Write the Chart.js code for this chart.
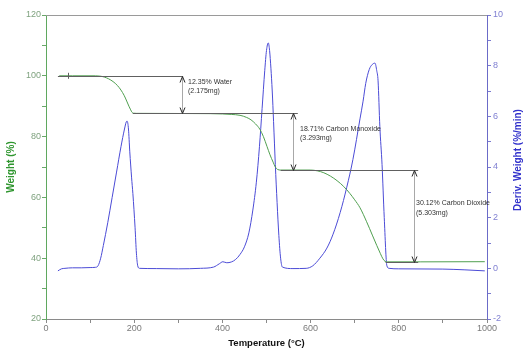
<!DOCTYPE html>
<html><head><meta charset="utf-8">
<script src="https://cdn.jsdelivr.net/npm/chart.js@4.4.1/dist/chart.umd.min.js"></script>
<style>html,body{margin:0;padding:0;background:#fff}canvas{display:block}</style>
</head><body>
<canvas id="c" width="528" height="356"></canvas>
<script>
// ---- data ----
const weightTemp = [30, 60, 112, 122, 132, 142, 152, 162, 170, 177, 183, 188, 192, 195, 198, 205, 300, 372, 400, 420, 440, 455, 465, 475, 485, 493, 501, 508, 515, 520, 525, 532, 599, 615, 630, 645, 660, 675, 689, 700, 712, 727, 740, 750, 758, 764, 769, 775, 850, 995];
const weightPct  = [100, 100, 100, 99.9, 99.6, 99.0, 98.1, 96.8, 95.3, 93.6, 91.7, 90.0, 88.8, 88.0, 87.7, 87.65, 87.6, 87.55, 87.45, 87.3, 87.0, 86.3, 85.5, 84.2, 82.4, 80.0, 76.8, 74.0, 71.6, 70.0, 69.2, 69.0, 69.0, 68.75, 68.1, 67.0, 65.5, 63.6, 61.3, 59.2, 56.6, 52.0, 47.6, 44.2, 41.6, 39.8, 38.95, 38.8, 38.8, 38.85];

const derivTemp = [27, 35, 43, 60, 80, 100, 112, 118, 124, 130, 140, 150, 160, 170, 178, 182, 184, 187, 190, 194, 197, 202, 205, 208, 212, 250, 300, 350, 380, 393, 401, 410, 420, 430, 440, 450, 460, 469, 477, 484, 490, 496, 500, 504, 507, 510, 513, 516, 520, 524, 528, 532, 536, 560, 590, 605, 621, 637, 651, 667, 682, 696, 712, 719, 725, 733, 740, 746, 750, 753, 757, 762, 767, 773, 778, 800, 900, 950, 995];
const derivRate = [-0.1, -0.02, 0, 0.02, 0.02, 0.03, 0.04, 0.1, 0.4, 0.9, 1.8, 2.8, 3.8, 4.8, 5.5, 5.78, 5.81, 5.5, 4.6, 3.6, 2.95, 1.6, 0.6, 0.1, 0, -0.01, -0.02, 0, 0.05, 0.18, 0.26, 0.22, 0.25, 0.35, 0.55, 0.85, 1.4, 2.3, 3.4, 4.8, 6.3, 7.8, 8.6, 8.9, 8.6, 7.9, 7.0, 5.8, 4.1, 2.6, 1.3, 0.4, 0.05, -0.01, 0, 0.1, 0.4, 0.8, 1.35, 2.2, 3.2, 4.3, 5.9, 6.6, 7.3, 7.85, 8.05, 8.1, 7.8, 7.4, 5.6, 4.1, 2.0, 0.1, 0, -0.02, -0.03, -0.06, -0.1];

const stepLevels   = [100, 87.65, 69.0, 38.8];
const stepLineFrom = [27, 197, 532, 770];
const stepLineTo   = [311, 571, 844, 844];
const arrowTemp    = [308, 559, 834];
const startMarkTemp = 50;
const stepLabels = [["12.35% Water", "(2.175mg)"], ["18.71% Carbon Monoxide", "(3.293mg)"], ["30.12% Carbon Dioxide", "(5.303mg)"]];
const labelTemp   = [322, 576, 839];
const labelWeight = [98.0, 82.6, 58.0];

const xLabelTicks  = [0, 200, 400, 600, 800, 1000];
const yLabelTicks  = [20, 40, 60, 80, 100, 120];
const y2LabelTicks = [-2, 0, 2, 4, 6, 8, 10];

const FONT = '"Liberation Sans", Arial, sans-serif';
const GREEN = '#4f9f4f';
const BLUE = '#4b4bd6';

const annot = {
  id: 'annot',
  afterDatasetsDraw(chart) {
    const { ctx, chartArea: a, scales: { x, y, y2 } } = chart;
    ctx.save();
    ctx.lineWidth = 1;
    // top frame line
    ctx.strokeStyle = '#9a9a9a';
    ctx.beginPath(); ctx.moveTo(a.left, a.top + 0.5); ctx.lineTo(a.right, a.top + 0.5); ctx.stroke();
    // step level lines
    ctx.strokeStyle = '#606060';
    stepLevels.forEach((lv, i) => {
      const py = Math.round(y.getPixelForValue(lv)) + 0.5;
      ctx.beginPath();
      ctx.moveTo(x.getPixelForValue(stepLineFrom[i]), py);
      ctx.lineTo(x.getPixelForValue(stepLineTo[i]), py);
      ctx.stroke();
    });
    // start mark
    const sx = Math.round(x.getPixelForValue(startMarkTemp)) + 0.5;
    const sy = y.getPixelForValue(stepLevels[0]);
    ctx.beginPath(); ctx.moveTo(sx, sy - 3); ctx.lineTo(sx, sy + 3); ctx.stroke();
    // arrows
    arrowTemp.forEach((t, i) => {
      const px = Math.round(x.getPixelForValue(t)) + 0.5;
      const y1 = Math.round(y.getPixelForValue(stepLevels[i])) + 0.5;
      const yb = Math.round(y.getPixelForValue(stepLevels[i + 1])) + 0.5;
      ctx.strokeStyle = '#a8a8a8';
      ctx.beginPath(); ctx.moveTo(px, y1); ctx.lineTo(px, yb); ctx.stroke();
      ctx.strokeStyle = '#222';
      ctx.beginPath();
      ctx.moveTo(px - 2.5, y1 + 6); ctx.lineTo(px, y1); ctx.lineTo(px + 2.5, y1 + 6);
      ctx.moveTo(px - 2.5, yb - 6); ctx.lineTo(px, yb); ctx.lineTo(px + 2.5, yb - 6);
      ctx.stroke();
    });
    // labels
    ctx.font = '7px ' + FONT;
    ctx.fillStyle = '#333';
    ctx.textBaseline = 'middle';
    ctx.textAlign = 'left';
    stepLabels.forEach((lines, i) => {
      const px = x.getPixelForValue(labelTemp[i]);
      const py = y.getPixelForValue(labelWeight[i]);
      lines.forEach((s, j) => ctx.fillText(s, px, py + j * 9.5));
    });
    // right axis title (reads bottom to top)
    ctx.translate(y2.right - 10, (a.top + a.bottom) / 2 - 7);
    ctx.rotate(-Math.PI / 2);
    ctx.font = 'bold 10px ' + FONT;
    ctx.fillStyle = '#3434cc';
    ctx.textAlign = 'center';
    ctx.fillText('Deriv. Weight (%/min)', 0, 0);
    ctx.restore();
  }
};

new Chart(document.getElementById('c'), {
  type: 'line',
  data: {
    datasets: [
      {
        label: 'Weight (%)',
        data: weightTemp.map((t, i) => ({ x: t, y: weightPct[i] })),
        yAxisID: 'y', borderColor: GREEN, borderWidth: 1, pointRadius: 0,
        cubicInterpolationMode: 'monotone', fill: false
      },
      {
        label: 'Deriv. Weight (%/min)',
        data: derivTemp.map((t, i) => ({ x: t, y: derivRate[i] })),
        yAxisID: 'y2', borderColor: BLUE, borderWidth: 1, pointRadius: 0,
        cubicInterpolationMode: 'monotone', fill: false
      }
    ]
  },
  options: {
    responsive: false, animation: false, devicePixelRatio: 1,
    layout: { padding: { top: 15, left: 0, right: 0, bottom: 0 } },
    plugins: { legend: { display: false }, tooltip: { enabled: false } },
    scales: {
      x: {
        type: 'linear', min: 0, max: 1000,
        afterFit: s => { s.height = 37; },
        border: { color: '#8a8a8a', width: 1 },
        grid: { drawOnChartArea: false, drawTicks: true, tickLength: 4, color: '#8a8a8a' },
        ticks: { stepSize: 100, autoSkip: false, maxRotation: 0, padding: 0, color: '#7a7a7a', font: { size: 9, family: FONT },
          callback: v => xLabelTicks.includes(v) ? String(v) : '' },
        title: { display: true, text: 'Temperature (°C)', color: '#111', font: { size: 9.5, weight: 'bold', family: FONT }, padding: { top: 0, bottom: 7 } }
      },
      y: {
        type: 'linear', position: 'left', min: 20, max: 120,
        afterFit: s => { s.width = 46; },
        border: { color: '#5fa85f', width: 1 },
        grid: { drawOnChartArea: false, drawTicks: true, tickLength: 4, color: '#6aa86a' },
        ticks: { stepSize: 10, autoSkip: false, padding: 1, color: '#7fa27f', font: { size: 9, family: FONT },
          callback: v => yLabelTicks.includes(v) ? String(v) : '' },
        title: { display: true, text: 'Weight (%)', color: '#2f962f', font: { size: 10, weight: 'bold', family: FONT }, padding: { top: 5, bottom: 0 } }
      },
      y2: {
        type: 'linear', position: 'right', min: -2, max: 10,
        afterFit: s => { s.width = 41; },
        border: { color: '#6b6bc8', width: 1 },
        grid: { drawOnChartArea: false, drawTicks: true, tickLength: 4, color: '#7a7ad0' },
        ticks: { stepSize: 1, autoSkip: false, padding: 2, color: '#8080d2', font: { size: 9, family: FONT },
          callback: v => y2LabelTicks.includes(v) ? String(v) : '' },
        title: { display: false }
      }
    }
  },
  plugins: [annot]
});
</script>
</body></html>
